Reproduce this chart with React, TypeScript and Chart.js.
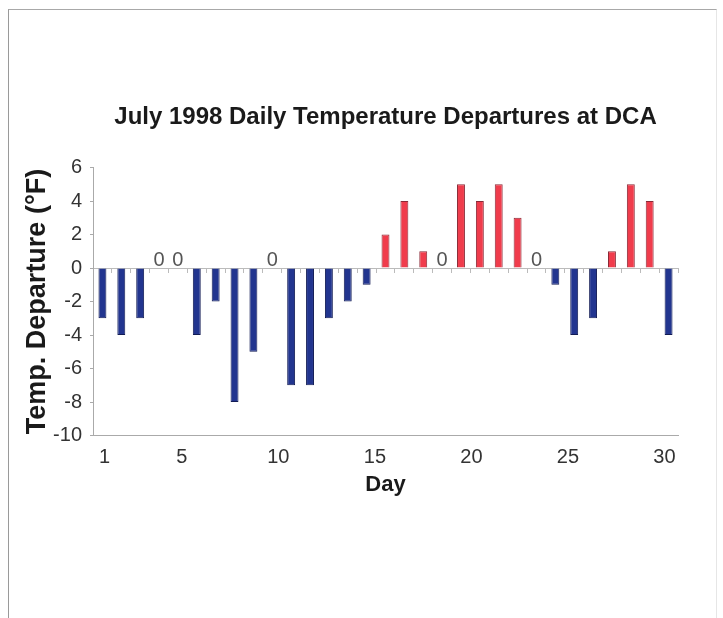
import { useEffect, useRef } from "react";
import { Chart, registerables } from "chart.js";

Chart.register(...registerables);

const chartTitle = "July 1998 Daily Temperature Departures at DCA";
const yAxisTitle = "Temp. Departure (°F)";
const xAxisTitle = "Day";

const days = [
  1, 2, 3, 4, 5, 6, 7, 8, 9, 10, 11, 12, 13, 14, 15, 16,
  17, 18, 19, 20, 21, 22, 23, 24, 25, 26, 27, 28, 29, 30, 31,
];
const departures = [
  -3, -4, -3, 0, 0, -4, -2, -8, -5, 0, -7, -7, -3, -2, -1, 2,
  4, 1, 0, 5, 4, 5, 3, 0, -1, -4, -3, 1, 5, 4, -4,
];
const dayTickLabels = [1, 5, 10, 15, 20, 25, 30];
const yMin = -10;
const yMax = 6;
const yStep = 2;

const FONT = '"Liberation Sans", Arial, Helvetica, sans-serif';
const RED = "#f03c4c";
const RED_EDGE = "#8a2a36";
const BLUE = "#22358f";
const BLUE_EDGE = "#121c55";

const zeroLabelPlugin = {
  id: "zeroLabels",
  afterDatasetsDraw(chart: any) {
    const { ctx } = chart;
    const y = chart.scales.y;
    const meta = chart.getDatasetMeta(0);
    ctx.save();
    ctx.font = `20px ${FONT}`;
    ctx.fillStyle = "#555";
    ctx.textAlign = "center";
    ctx.textBaseline = "alphabetic";
    departures.forEach((v, i) => {
      if (v === 0) {
        const el = meta.data[i];
        ctx.fillText("0", el.x, y.getPixelForValue(0) - 2);
      }
    });
    ctx.restore();
  },
};

export default function App() {
  const canvasRef = useRef<HTMLCanvasElement | null>(null);

  useEffect(() => {
    if (!canvasRef.current) return;
    const chart = new Chart(canvasRef.current, {
      type: "bar",
      data: {
        labels: days.map(String),
        datasets: [
          {
            data: departures,
            backgroundColor: (c: any) => (departures[c.dataIndex] >= 0 ? RED : BLUE),
            borderColor: (c: any) => (departures[c.dataIndex] >= 0 ? RED_EDGE : BLUE_EDGE),
            borderWidth: 1,
            barPercentage: 0.42,
            categoryPercentage: 1,
          },
        ],
      },
      options: {
        animation: false,
        responsive: false,
        maintainAspectRatio: false,
        layout: { padding: { left: 0, right: 45, top: 0, bottom: 112.5 } },
        plugins: {
          legend: { display: false },
          tooltip: { enabled: false },
          title: {
            display: true,
            fullSize: false,
            text: chartTitle,
            color: "#1a1a1a",
            font: { family: FONT, size: 24, weight: "bold" },
            padding: { top: 103, bottom: 35.7 },
          },
        },
        scales: {
          x: {
            type: "category",
            axis: "x",
            position: { y: 0 } as any,
            offset: true,
            ticks: { display: false },
            grid: {
              drawOnChartArea: false,
              drawTicks: true,
              tickLength: 4,
              tickColor: "#bbb",
              offset: true,
            },
            border: { display: true, color: "#bbb" },
          },
          x2: {
            type: "linear",
            axis: "x",
            position: "bottom",
            offset: false,
            min: 0.4,
            max: 30.7,
            afterBuildTicks(s: any) {
              s.ticks = dayTickLabels.map((v) => ({ value: v }));
            },
            afterFit(s: any) {
              s.height = 70;
            },
            ticks: {
              autoSkip: false,
              maxRotation: 0,
              padding: 10,
              color: "#333",
              font: { family: FONT, size: 20 },
            },
            grid: { drawOnChartArea: false, drawTicks: false, offset: false },
            border: { display: true, color: "#aaa" },
            title: {
              display: true,
              text: xAxisTitle,
              color: "#1a1a1a",
              font: { family: FONT, size: 22, weight: "bold" },
              padding: { top: 0, bottom: 7 },
            },
          } as any,
          y: {
            min: yMin,
            max: yMax,
            afterFit(s: any) {
              s.width = 93;
            },
            ticks: {
              stepSize: yStep,
              padding: 8,
              color: "#333",
              font: { family: FONT, size: 20 },
            },
            grid: {
              drawOnChartArea: false,
              drawTicks: true,
              tickLength: 3,
              tickColor: "#aaa",
            },
            border: { display: true, color: "#aaa" },
            title: {
              display: true,
              text: yAxisTitle,
              color: "#1a1a1a",
              font: { family: FONT, size: 27, weight: "bold" },
              padding: { top: 21, bottom: 0 },
            },
          },
        },
      },
      plugins: [zeroLabelPlugin],
    });
    return () => chart.destroy();
  }, []);

  return (
    <div style={{ position: "absolute", left: 0, top: 0, width: 723, height: 618, background: "#fff" }}>
      <div
        style={{
          position: "absolute",
          left: 8,
          top: 9,
          width: 709,
          height: 612,
          borderLeft: "1.5px solid #9a9a9a",
          borderTop: "1.5px solid #a8a8a8",
          borderRight: "1px solid #e6e6e6",
          boxSizing: "border-box",
        }}
      />
      <canvas
        ref={canvasRef}
        width={723}
        height={618}
        style={{ position: "absolute", left: 0, top: 0, display: "block" }}
      />
    </div>
  );
}
